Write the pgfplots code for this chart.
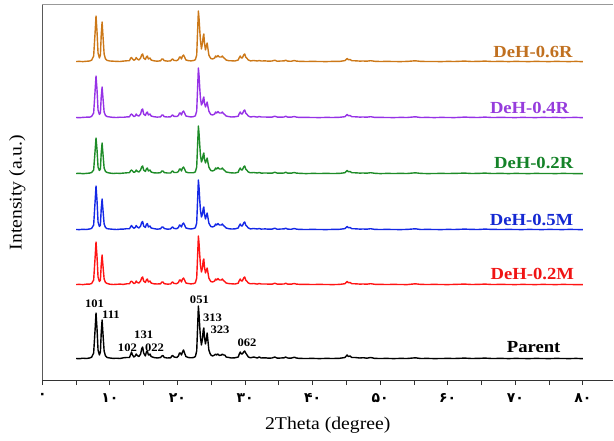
\documentclass[border=0pt]{standalone}
\usepackage{fontspec}
\setmainfont[FakeStretch=1.1]{Liberation Serif}
\newfontfamily\fadigits{DejaVu Sans}
\usepackage{pgfplots}
\usepackage{pgfplotstable}
\pgfplotsset{compat=1.18}
\definecolor{cOr}{RGB}{204,120,24}
\definecolor{lOr}{RGB}{192,112,32}
\definecolor{cPu}{RGB}{150,50,230}
\definecolor{lPu}{RGB}{150,60,220}
\definecolor{cGr}{RGB}{30,140,40}
\definecolor{lGr}{RGB}{20,130,40}
\definecolor{cBl}{RGB}{20,40,230}
\definecolor{lBl}{RGB}{20,40,210}
\definecolor{cRe}{RGB}{255,20,20}
\definecolor{lRe}{RGB}{240,20,20}
\pgfplotstableread{
x P M2 M5 R2 R4 R6
5.0 0.5 0.5 0.5 0.5 0.5 0.5
5.5 0.3 0.6 0.4 0.7 0.3 0.6
6.0 0.8 0.4 0.7 0.3 0.6 0.4
6.5 0.5 0.8 0.5 0.6 0.8 0.7
7.0 1.0 0.9 1.0 0.9 0.8 1.0
7.3 1.8 1.5 1.6 1.5 1.6 1.8
7.6 6 5 5 4 5 6
7.8 28 26 27 22 26 28
7.95 46 43 44 36 42 46
8.1 30 28 29 24 28 30
8.25 9 8 8 7 8 9
8.45 4 3.5 3.5 3.5 3.5 4
8.6 7 5 5 5 5 7
8.72 26 20 21 21 21 27
8.85 39 30 31 31 31 40
8.98 25 19 20 20 20 26
9.15 8 6 6 6 6 8
9.35 3 2.5 2.5 2.5 2.5 3
9.6 1.5 1.5 1.3 1.5 1.4 1.6
10.0 1 0.8 1 0.9 1 1
10.5 0.6 0.5 0.7 0.5 0.6 0.8
11.0 0.8 0.7 0.5 0.8 0.5 0.6
11.5 0.5 0.9 0.8 0.6 0.8 0.5
12.0 1.2 0.6 0.9 0.9 0.7 0.9
12.5 1.5 1.2 1.3 1.2 1.1 1.2
12.9 1.5 1.2 1.2 1.3 1.2 1.3
13.05 4 3 3 3 3 3.5
13.2 7 4 4.5 4 4 4.5
13.35 4 3 3 3 3 3
13.55 2 1.5 1.8 1.6 1.5 1.8
13.75 3 2 2.5 2.2 2 2.5
13.9 5 4 4.5 4 4 4.5
14.05 3.5 2.5 3 2.7 2.5 3
14.3 2.5 2 2 2 2 2
14.55 5 4 4 4 4 4
14.7 10 7 7.5 7 8 7
14.85 12 8 8.5 8 9 8
15.0 6 4 4 4 4 4
15.25 3 2.5 2.5 2.5 2.5 2.5
15.4 7 5 5.5 5 5 5
15.55 8 6 6.5 6 6 6
15.7 4 3 3 3 3 3
15.85 4 3.5 3.5 3.5 3.5 3.5
15.95 5 4 4 4 4 4
16.1 2.5 2 2 2 2 2
16.5 1.5 1.2 1.4 1.2 1.3 1.2
17.0 1 1 0.8 1 0.9 0.8
17.5 1.5 1.2 1.2 1.3 1.1 1.2
17.7 3 3 3 3 3 3
17.85 3.5 3 3 3 3 3
18.05 1.5 1.3 1.5 1.4 1.3 1.3
18.5 1 0.9 0.8 1 1 0.9
19.0 1.2 1 1.1 1 1.2 1.1
19.15 3 2.5 2.5 2.5 2.5 2.5
19.3 3.5 3 3 3 3 3
19.5 2 1.5 1.5 1.5 1.6 1.5
19.9 1.5 1.4 1.3 1.5 1.5 1.4
20.15 3 2.5 2.5 2.5 2.5 2.5
20.3 6 5 5 5 5 5
20.45 6 5 4.5 5 5 5
20.6 4 3 3 3 3 3
20.75 7 6 6 6 6 6
20.9 9 7 7 7 7 7
21.05 6 5 5 5 5 5
21.25 2.5 2 2 2 2 2
21.6 1.5 1.5 1.4 1.3 1.5 1.4
22.0 1.2 1.1 1 1.2 1 1.1
22.4 1.5 1.4 1.5 1.3 1.4 1.5
22.65 2.5 2.2 2.2 2.2 2.2 2.3
22.85 8 7 7 7 7 7
23.0 35 32 33 32 33 34
23.1 53 49 50 48 50 51
23.2 44 41 42 40 42 43
23.3 32 30 30 29 30 32
23.4 22 20 20 19 20 22
23.55 14 13 13 12 13 13
23.7 20 17 16 15 15 19
23.8 28 24 21 19 19 25
23.9 31 26 23 21 21 28
24.0 22 18 16 15 15 19
24.15 15 12 11 11 11 12
24.3 21 15 15 14 14 17
24.4 26 17 17 16 16 19
24.5 19 13 13 12 12 14
24.65 9 7 7 7 7 7
24.8 6 5 5 5 5 5
24.95 4 3.5 3.5 3.5 3.5 3.5
25.2 3 3 3 3 3 3
25.5 4 4 4 4 4 4
25.65 5 6 6 6 6 6
25.8 4 5 5 5 5 5
26.0 5 6.5 6.5 6.5 6.5 6.5
26.2 3.5 5 5 5 5 5
26.5 4 5 5 5 5 5
26.65 5 6 6 6 6 6
26.8 4 4.5 4.5 4.5 4.5 4.5
27.0 4 3.5 3.5 3.5 3.5 3.5
27.2 2 2 2 2 2 2
27.6 1.5 1.4 1.3 1.5 1.4 1.3
28.0 1 1.2 1 1.1 1 1.2
28.5 1.2 1 1.1 1 1.2 1
29.0 2 1.8 2 1.8 1.8 2
29.15 5 4.5 4.5 4.5 4.5 4.5
29.3 7 6 6 6 6 6
29.45 5 4 4 4 4 4
29.6 5 4 4 4 4 4
29.8 7 7 7 7 7 7
29.95 8 8 8 8 8 8
30.1 6 5 5 5 5 5
30.3 4 3.5 3.5 3.5 3.5 3.5
30.5 2 2 2 2 2 2
30.8 1.2 1.2 1.1 1.2 1 1.1
31.3 2 1.5 1.5 1.5 1.5 1.5
31.8 1 0.9 1 1 0.9 1
32.1 2 1.5 1.5 1.5 1.5 1.5
32.4 1 1 0.9 0.9 1 1
33.0 1.2 1 1.1 1 1 1.1
33.5 0.8 0.9 0.8 0.9 0.8 0.8
34.0 1 0.8 0.9 0.8 0.9 1
34.4 2 1.8 1.8 1.8 1.8 1.8
34.8 0.8 0.8 0.7 0.8 0.9 0.7
35.3 1 0.9 1 0.8 0.8 1
35.8 1.2 1 1.1 1 1 1.1
36.0 2 1.8 1.8 1.8 1.8 1.8
36.3 1 0.9 0.9 0.9 0.9 0.9
36.8 0.8 0.8 0.7 0.8 0.8 0.7
37.3 1.8 1.5 1.5 1.5 1.5 1.5
37.6 1 0.9 0.9 0.9 0.9 0.9
38.0 0.6 0.7 0.6 0.7 0.6 0.7
39.0 0.5 0.6 0.5 0.4 0.6 0.5
40.0 0.6 0.5 0.6 0.6 0.5 0.6
41.0 0.4 0.6 0.5 0.5 0.4 0.5
42.0 0.6 0.5 0.4 0.6 0.6 0.4
43.0 0.5 0.4 0.6 0.5 0.5 0.6
44.0 0.7 0.6 0.7 0.6 0.7 0.6
44.8 1.5 1.3 1.4 1.3 1.3 1.4
45.1 4 3.5 3.5 3.5 3.5 3.5
45.3 2.5 2.2 2.2 2.2 2.2 2.2
45.55 3 2.5 2.5 2.5 2.5 2.5
45.8 1.5 1.3 1.3 1.3 1.3 1.3
46.3 1.5 1.2 1.2 1.2 1.2 1.2
47.0 1 0.9 0.9 0.9 0.9 0.9
47.5 1.3 1 1 1 1 1
48.0 0.8 0.8 0.8 0.8 0.8 0.8
48.6 1.5 1.3 1.3 1.3 1.3 1.3
49.2 0.6 0.7 0.6 0.7 0.6 0.7
50 0.5 0.6 0.5 0.4 0.6 0.5
51 0.6 0.5 0.6 0.6 0.5 0.6
52 0.4 0.6 0.5 0.5 0.4 0.5
53 0.6 0.5 0.4 0.6 0.6 0.4
54 0.5 0.4 0.6 0.5 0.5 0.6
55.2 1.2 1.2 1.2 1.2 1.2 1.2
56 0.5 0.6 0.5 0.6 0.5 0.6
57 0.6 0.5 0.6 0.4 0.6 0.5
58 0.4 0.6 0.5 0.5 0.4 0.5
59 0.5 0.5 0.4 0.6 0.6 0.4
60 0.6 0.4 0.6 0.5 0.5 0.6
61 0.5 0.6 0.5 0.6 0.4 0.5
62.5 0.9 0.9 0.9 0.9 0.9 0.9
63.5 0.5 0.5 0.6 0.5 0.6 0.5
64.5 0.6 0.6 0.5 0.6 0.5 0.6
65.5 0.9 0.9 0.9 0.9 0.9 0.9
66.5 0.5 0.5 0.6 0.5 0.5 0.5
68 0.6 0.6 0.5 0.6 0.6 0.6
69 0.4 0.5 0.6 0.4 0.5 0.4
70 0.6 0.4 0.5 0.6 0.4 0.6
71 0.5 0.6 0.4 0.5 0.6 0.5
72 0.4 0.5 0.6 0.4 0.5 0.4
73 0.6 0.4 0.5 0.6 0.4 0.6
74 0.5 0.6 0.4 0.5 0.6 0.5
75 0.4 0.5 0.6 0.5 0.5 0.4
76 0.6 0.4 0.5 0.4 0.6 0.6
77 0.5 0.6 0.4 0.6 0.4 0.5
78 0.4 0.5 0.6 0.5 0.5 0.4
79 0.6 0.4 0.5 0.4 0.6 0.6
80 0.3 0.3 0.3 0.3 0.3 0.3
}\xrd
\begin{document}
\begin{tikzpicture}
\useasboundingbox (0,0) rectangle (614bp,441bp);
\begin{axis}[
  at={(42.3bp,61bp)}, anchor=south west,
  scale only axis, width=571bp, height=375bp,
  xmin=0, xmax=84.5, ymin=0, ymax=375,
  axis x line*=bottom, axis y line*=left,
  axis line style={line width=0.9bp},
  y axis line style={draw=black!65},
  x axis line style={draw=black!80},
  xtick={0,10,...,80},
  xticklabels={۰,۱۰,۲۰,۳۰,۴۰,۵۰,۶۰,۷۰,۸۰},
  minor xtick={5,15,...,75},
  ytick=\empty,
  tick align=outside,
  major tick length=5bp, minor tick length=5bp,
  tick style={line width=0.9bp, black!80},
  x tick label style={font=\fadigits\bfseries\fontsize{14}{15}\selectfont, yshift=-5bp},
  xlabel={2Theta (degree)},
  ylabel={Intensity (a.u.)},
  xlabel style={at={(axis description cs:0.5,0)}, anchor=center, yshift=-45bp, font=\fontsize{18}{20}\selectfont},
  ylabel style={at={(axis description cs:-0.0438,0.5)}, anchor=center, rotate=0, font=\fontsize{18}{20}\selectfont},
  clip=false,
  every axis plot/.append style={line width=1.4bp, line join=round},
]
\draw[black!40, line width=1bp] (rel axis cs:0,1) -- (rel axis cs:1,1);
\addplot[black, no marks] table[x=x, y expr=\thisrow{P}+21] {\xrd};
\addplot[cRe, no marks] table[x=x, y expr=\thisrow{M2}+95] {\xrd};
\addplot[cBl, no marks] table[x=x, y expr=\thisrow{M5}+150] {\xrd};
\addplot[cGr, no marks] table[x=x, y expr=\thisrow{R2}+206] {\xrd};
\addplot[cPu, no marks] table[x=x, y expr=\thisrow{R4}+262] {\xrd};
\addplot[cOr, no marks] table[x=x, y expr=\thisrow{R6}+318] {\xrd};
\begin{scope}[every node/.style={font=\bfseries\fontsize{17}{18}\selectfont, anchor=base east, inner sep=0pt}]
\node[black] at (axis cs:76.7,28) {Parent};
\node[lRe] at (axis cs:78.7,100) {DeH-0.2M};
\node[lBl] at (axis cs:78.6,154) {DeH-0.5M};
\node[lGr] at (axis cs:78.6,211) {DeH-0.2R};
\node[lPu] at (axis cs:78.0,266) {DeH-0.4R};
\node[lOr] at (axis cs:78.5,322) {DeH-0.6R};
\end{scope}
\begin{scope}[every node/.style={font=\bfseries\fontsize{11.5}{12}\selectfont, anchor=base, inner sep=0pt}]
\node at (axis cs:7.72,72) {101};
\node at (axis cs:10.16,61) {111};
\node at (axis cs:12.6,29) {102};
\node at (axis cs:15.0,41) {131};
\node at (axis cs:16.6,29) {022};
\node at (axis cs:23.25,76) {051};
\node at (axis cs:25.2,58) {313};
\node at (axis cs:26.3,46.5) {323};
\node at (axis cs:30.3,33) {062};
\end{scope}
\end{axis}
\end{tikzpicture}
\end{document}
